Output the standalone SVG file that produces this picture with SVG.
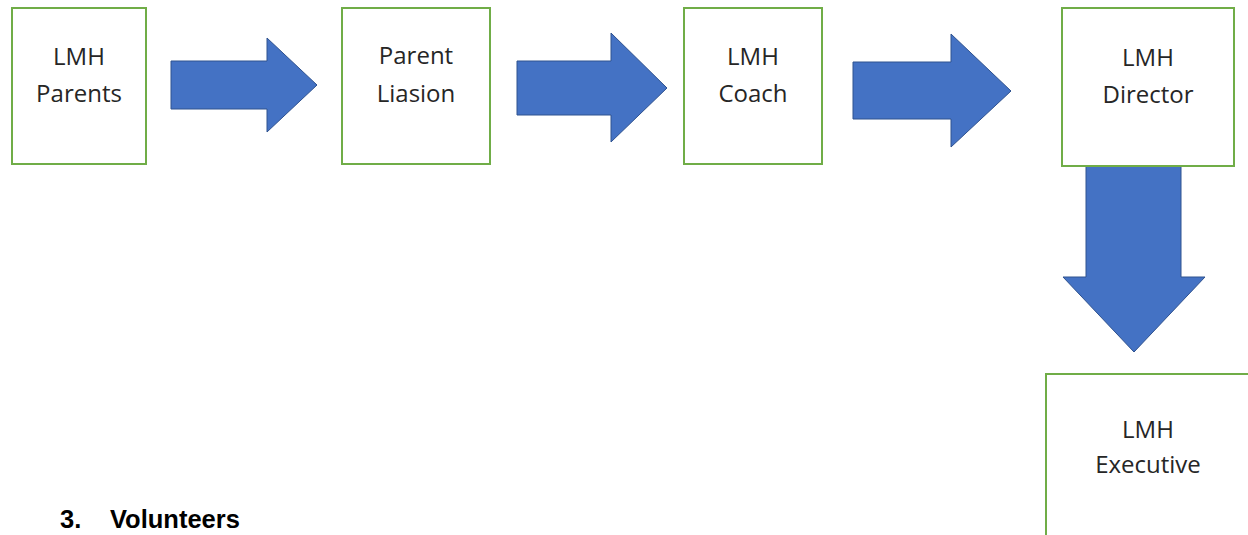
<svg xmlns="http://www.w3.org/2000/svg" width="1248" height="535" viewBox="0 0 1248 535">
<style>
.box{fill:#ffffff;stroke:#70AD47;stroke-width:2}
.arrow{fill:#4472C4;stroke:#2F528F;stroke-width:1}
.lbl{font-family:"Open Sans","Liberation Sans",sans-serif;font-size:24px;fill:#262626;text-anchor:middle}
.hd{font-family:"Liberation Sans",Arial,sans-serif;font-size:25.5px;font-weight:bold;fill:#000000}
</style>
<rect width="1248" height="535" fill="#ffffff"/>
<g id="connectors">
<polygon class="arrow" points="171,61 267,61 267,38 317,85 267,132 267,109 171,109"/>
<polygon class="arrow" points="517,61 611,61 611,33 667,88 611,142 611,115 517,115"/>
<polygon class="arrow" points="853,62 951,62 951,34 1011,91 951,147 951,119 853,119"/>
<polygon class="arrow" points="1086,166 1181,166 1181,277 1205,277 1134,352 1063,277 1086,277"/>
</g>
<g id="node-parents">
<rect class="box" x="12" y="8" width="134" height="156"/>
<text class="lbl" x="79" y="65">LMH</text>
<text class="lbl" x="79" y="102">Parents</text>
</g>
<g id="node-liaison">
<rect class="box" x="342" y="8" width="148" height="156"/>
<text class="lbl" x="416" y="64">Parent</text>
<text class="lbl" x="416" y="102">Liasion</text>
</g>
<g id="node-coach">
<rect class="box" x="684" y="8" width="138" height="156"/>
<text class="lbl" x="753" y="65">LMH</text>
<text class="lbl" x="753" y="102">Coach</text>
</g>
<g id="node-director">
<rect class="box" x="1062" y="8" width="172" height="158"/>
<text class="lbl" x="1148" y="66">LMH</text>
<text class="lbl" x="1148" y="103">Director</text>
</g>
<g id="node-executive">
<rect class="box" x="1046" y="374" width="210" height="170"/>
<text class="lbl" x="1148" y="438">LMH</text>
<text class="lbl" x="1148" y="473">Executive</text>
</g>
<text class="hd" x="60" y="528">3.</text>
<text class="hd" x="110" y="528">Volunteers</text>
</svg>
